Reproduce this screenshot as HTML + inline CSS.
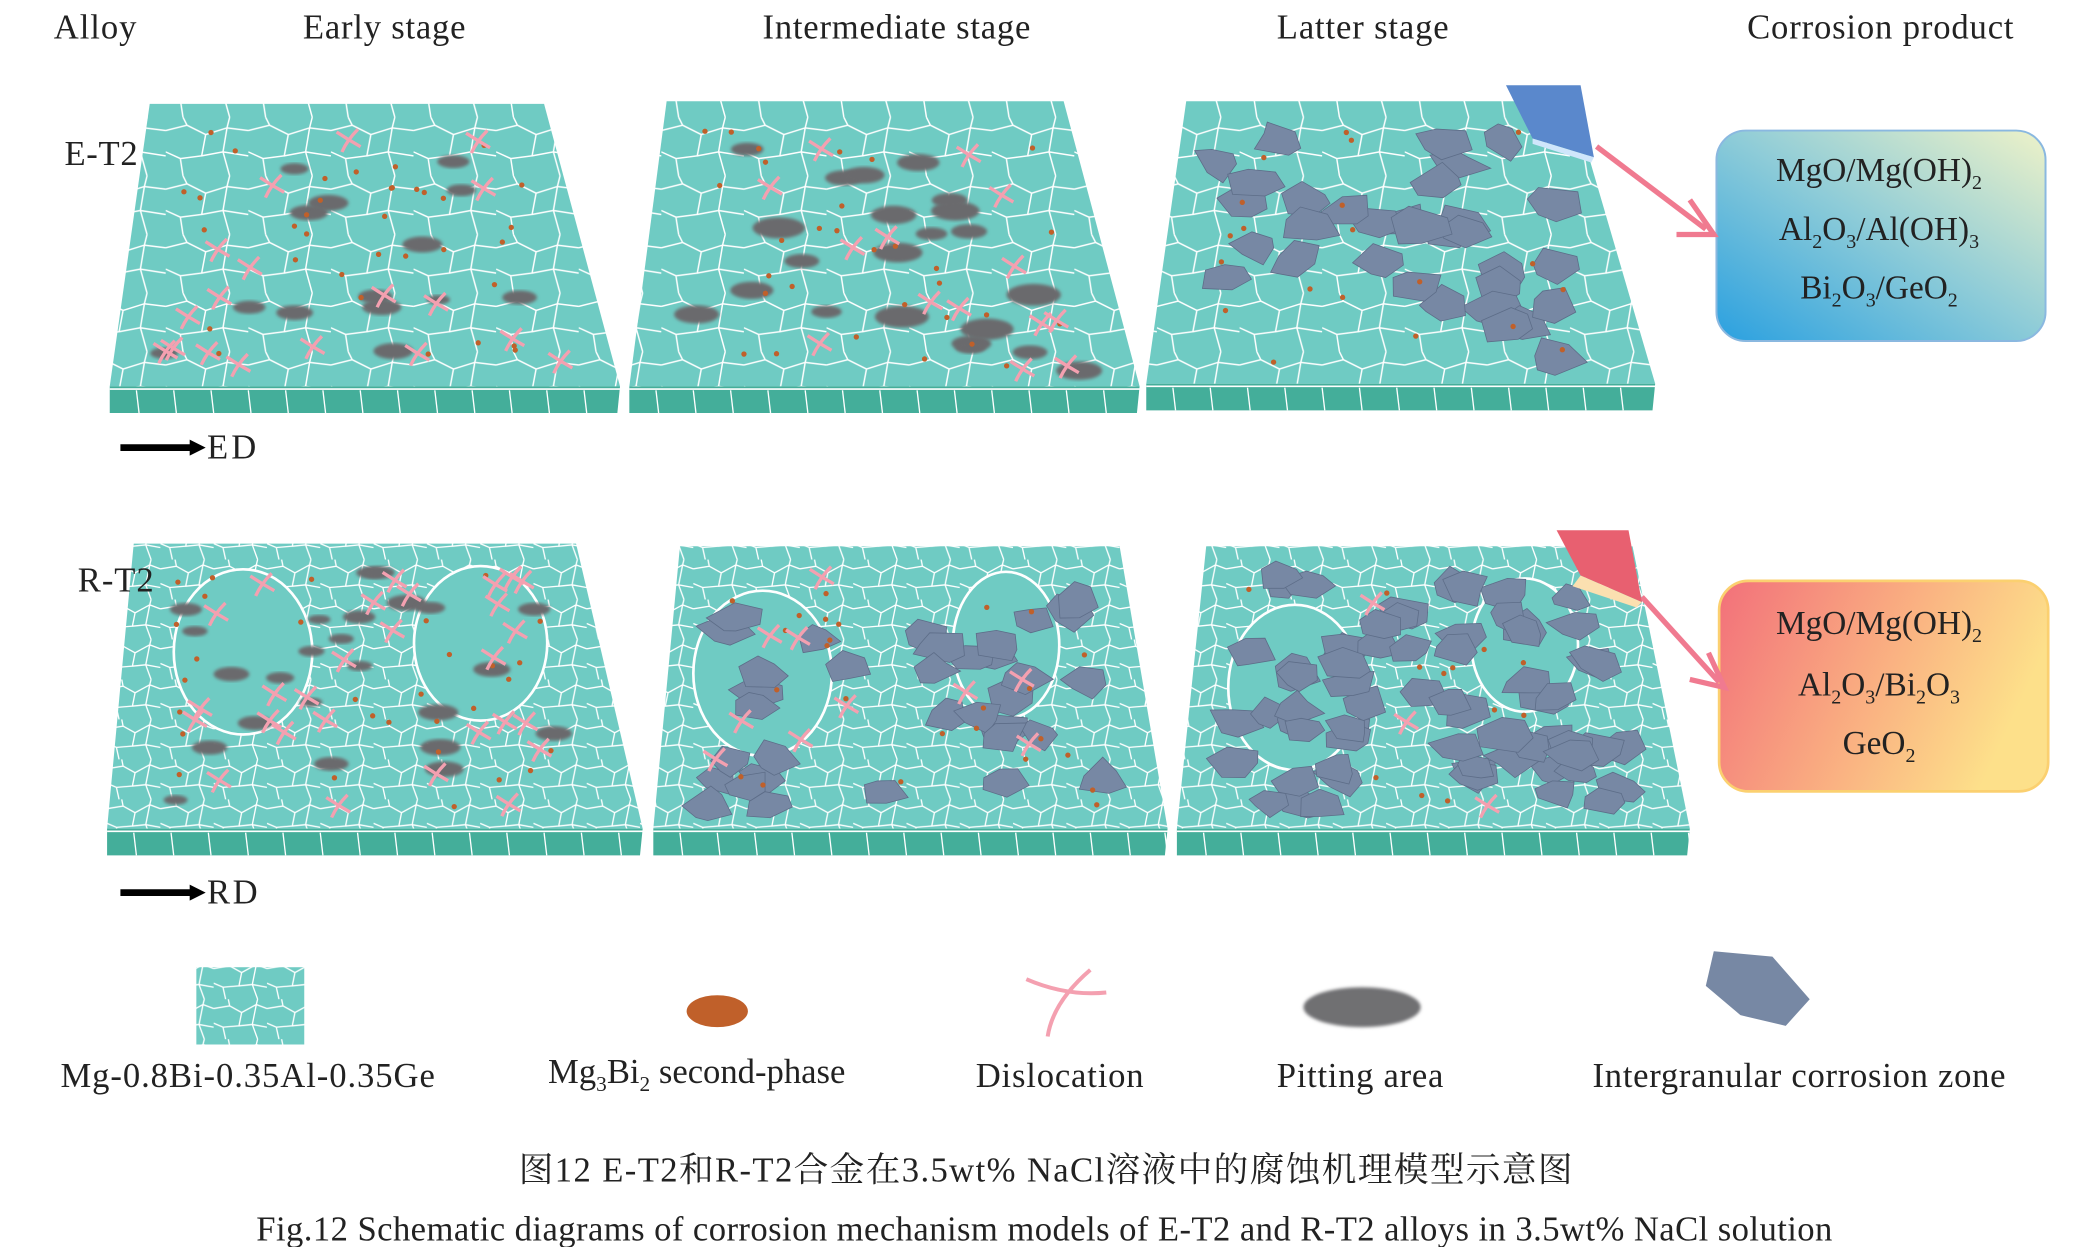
<!DOCTYPE html>
<html><head><meta charset="utf-8"><style>
html,body{margin:0;padding:0;background:#fff;}
svg{display:block}
text{font-family:"Liberation Serif","Noto Serif CJK SC",serif;fill:#222}
</style></head><body>
<svg id="s" width="2090" height="1247" viewBox="0 0 1568 936" xmlns="http://www.w3.org/2000/svg">
<defs>
<pattern id="g" width="62" height="44" patternUnits="userSpaceOnUse">
<rect width="62" height="44" fill="#6fcbc3"/>
<path d="M0 10 L16 6 L30 13 L46 8 L62 10 M16 6 L13 0 M46 8 L48 0 M30 13 L27 29 L11 31 L0 26 M27 29 L43 26 L46 8 M43 26 L62 29 M11 31 L13 44 M43 26 L48 44" stroke="#fff" stroke-width="1.1" fill="none"/>
</pattern>
<pattern id="g2" width="40" height="30" patternUnits="userSpaceOnUse">
<rect width="40" height="30" fill="#6fcbc3"/>
<path d="M0 7 L12 5 L21 10 L32 4 L40 7 M12 5 L11 0 M32 4 L33 0 M21 10 L19 20 L7 21 L0 18 M19 20 L29 19 L32 4 M29 19 L40 21 M7 21 L9 30 M29 19 L33 30" stroke="#fff" stroke-width="1" fill="none"/>
</pattern>
<linearGradient id="b1" x1="1" y1="0" x2="0" y2="1"><stop offset="0" stop-color="#eef2c8"/><stop offset="0.5" stop-color="#8ccbd8"/><stop offset="1" stop-color="#2aa0e0"/></linearGradient>
<linearGradient id="b2" x1="0" y1="0" x2="1" y2="0.3"><stop offset="0" stop-color="#f2707a"/><stop offset="0.5" stop-color="#f9a880"/><stop offset="1" stop-color="#fde08a"/></linearGradient>
<filter id="bl"><feGaussianBlur stdDeviation="1.2"/></filter>
</defs>
<g id="root"></g>
<g font-size="26" lengthAdjust="spacingAndGlyphs">
<text x="40" y="29" textLength="62">Alloy</text>
<text x="227" y="29" textLength="122">Early stage</text>
<text x="572" y="29" textLength="201">Intermediate stage</text>
<text x="958" y="29" textLength="129">Latter stage</text>
<text x="1311" y="29" textLength="200">Corrosion product</text>
<text x="48" y="124" textLength="55">E-T2</text>
<text x="58" y="444" textLength="57">R-T2</text>
<text x="155" y="344" textLength="37">ED</text>
<text x="155" y="678" textLength="38">RD</text>
</g>
<line x1="90" y1="336" x2="146" y2="336" stroke="#000" stroke-width="5"/><path d="M142 330 L154 336 L142 342Z"/>
<line x1="90" y1="670" x2="146" y2="670" stroke="#000" stroke-width="5"/><path d="M142 664 L154 670 L142 676Z"/>
<rect x="1288" y="98" width="247" height="158" rx="22" fill="url(#b1)" stroke="#8ab8e0" stroke-width="1.5"/>
<rect x="1290" y="436" width="247" height="158" rx="22" fill="url(#b2)" stroke="#fbd070" stroke-width="2"/>
<g font-size="25" text-anchor="middle">
<text x="1410" y="136">MgO/Mg(OH)<tspan font-size="15" dy="6">2</tspan></text>
<text x="1410" y="180">Al<tspan font-size="15" dy="6">2</tspan><tspan dy="-6">O</tspan><tspan font-size="15" dy="6">3</tspan><tspan dy="-6">/Al(OH)</tspan><tspan font-size="15" dy="6">3</tspan></text>
<text x="1410" y="224">Bi<tspan font-size="15" dy="6">2</tspan><tspan dy="-6">O</tspan><tspan font-size="15" dy="6">3</tspan><tspan dy="-6">/GeO</tspan><tspan font-size="15" dy="6">2</tspan></text>
<text x="1410" y="476">MgO/Mg(OH)<tspan font-size="15" dy="6">2</tspan></text>
<text x="1410" y="522">Al<tspan font-size="15" dy="6">2</tspan><tspan dy="-6">O</tspan><tspan font-size="15" dy="6">3</tspan><tspan dy="-6">/Bi</tspan><tspan font-size="15" dy="6">2</tspan><tspan dy="-6">O</tspan><tspan font-size="15" dy="6">3</tspan></text>
<text x="1410" y="566">GeO<tspan font-size="15" dy="6">2</tspan></text>
</g>
<path d="M1198 110 L1280 172" stroke="#f07a90" stroke-width="4" fill="none"/><path d="M1268 150 L1286 176 L1258 176" stroke="#f07a90" stroke-width="4" fill="none"/>
<path d="M1232 448 L1290 512" stroke="#f07a90" stroke-width="4" fill="none"/><path d="M1282 490 L1294 516 L1268 510" stroke="#f07a90" stroke-width="4" fill="none"/>
<path d="M1130 64 L1186 64 L1196 118 L1150 104Z" fill="#5a88cc"/><path d="M1150 104 L1196 118 L1194 122 L1150 108Z" fill="#cfe6fb"/>
<path d="M1168 398 L1222 398 L1232 452 L1186 432Z" fill="#e86070"/><path d="M1186 432 L1232 452 L1228 456 L1180 440Z" fill="#fbe0b0"/>
<rect x="147" y="726" width="81" height="58" fill="url(#g2)"/>
<ellipse cx="538" cy="759" rx="23" ry="12" fill="#c0602a"/>
<path d="M770 735 Q800 748 830 745 M818 728 Q790 752 786 778" stroke="#f4a0b0" stroke-width="3" fill="none"/>
<ellipse cx="1022" cy="756" rx="44" ry="15" fill="#707072" filter="url(#bl)"/>
<path d="M1286 714 L1330 718 L1358 750 L1340 770 L1306 762 L1280 740Z" fill="#7788a4"/>
<g font-size="26" lengthAdjust="spacingAndGlyphs">
<text x="45" y="816" textLength="281">Mg-0.8Bi-0.35Al-0.35Ge</text>
<text x="411" y="813">Mg<tspan font-size="16" dy="6">3</tspan><tspan dy="-6">Bi</tspan><tspan font-size="16" dy="6">2</tspan><tspan dy="-6"> second-phase</tspan></text>
<text x="732" y="816" textLength="126">Dislocation</text>
<text x="958" y="816" textLength="125">Pitting area</text>
<text x="1195" y="816" textLength="310">Intergranular corrosion zone</text>
<text x="389" y="887" textLength="791">图12  E-T2和R-T2合金在3.5wt% NaCl溶液中的腐蚀机理模型示意图</text>
<text x="192" y="931" textLength="1183">Fig.12  Schematic diagrams of corrosion mechanism models of E-T2 and R-T2 alloys in 3.5wt% NaCl solution</text>
</g>
</svg>
<script>
var NS="http://www.w3.org/2000/svg",root=document.getElementById("root");
var seed=7;function r(){seed=(seed*16807)%2147483647;return seed/2147483647;}
function el(t,a){var e=document.createElementNS(NS,t);for(var k in a)e.setAttribute(k,a[k]);root.appendChild(e);return e;}
function P(p,u,v){var tl=p[0],tr=p[1],br=p[2],bl=p[3];var tx=tl[0]+(tr[0]-tl[0])*u,ty=tl[1]+(tr[1]-tl[1])*u,bx=bl[0]+(br[0]-bl[0])*u,by=bl[1]+(br[1]-bl[1])*u;return[tx+(bx-tx)*v,ty+(by-ty)*v];}
function poly(c,n,rad){var s="";for(var i=0;i<n;i++){var a=i/n*6.283+r()*0.6,rr=rad*(0.6+r()*0.6);s+=(c[0]+Math.cos(a)*rr*1.2)+","+(c[1]+Math.sin(a)*rr*0.8)+" ";}return s;}
function panel(p,pat,o){
 var pts=p.map(function(q){return q.join(",")}).join(" ");
 el("polygon",{points:pts,fill:"url(#"+pat+")"});
 var bl=p[3],br=p[2];
 el("polygon",{points:bl[0]+","+bl[1]+" "+br[0]+","+br[1]+" "+(br[0]-2)+","+(br[1]+20)+" "+(bl[0])+","+(bl[1]+20),fill:"#44ae9a"});
 for(var x=bl[0]+20;x<br[0];x+=28)el("line",{x1:x,y1:bl[1]+3,x2:x+2,y2:bl[1]+20,stroke:"#fff","stroke-width":1});
 el("line",{x1:bl[0],y1:bl[1]+2,x2:br[0],y2:br[1]+2,stroke:"#fff","stroke-width":1.2});
 if(o.big){o.big.forEach(function(b){var c=P(p,b[0],b[1]);el("ellipse",{cx:c[0],cy:c[1],rx:b[2],ry:b[3],fill:"#6fcbc3",stroke:"#fff","stroke-width":2});});}
 var i,c;
 for(i=0;i<o.ig;i++){c=P(p,0.1+r()*0.8,0.1+r()*0.85);el("polygon",{points:poly(c,6,o.igr),fill:"#7788a4",stroke:"#5d6d88","stroke-width":0.6});}
 for(i=0;i<o.pit;i++){c=P(p,0.1+r()*0.8,0.1+r()*0.85);var w=o.pw*(0.7+r()*0.6);el("ellipse",{cx:c[0],cy:c[1],rx:w,ry:w*0.4,fill:"#6a6a6d",filter:"url(#bl)"});}
 for(i=0;i<o.dot;i++){c=P(p,0.1+r()*0.8,0.1+r()*0.85);el("circle",{cx:c[0],cy:c[1],r:2,fill:"#c0602a"});}
 for(i=0;i<o.dis;i++){c=P(p,0.1+r()*0.8,0.1+r()*0.85);var x=c[0],y=c[1];el("path",{d:"M"+(x-9)+" "+(y-6)+" Q"+x+" "+y+" "+(x+9)+" "+(y+5)+" M"+(x+7)+" "+(y-8)+" Q"+(x-1)+" "+(y)+" "+(x-5)+" "+(y+9),stroke:"#f4a0b0","stroke-width":2.5,fill:"none"});}
}
panel([[112,78],[408,78],[465,290],[82,290]],"g",{ig:0,pit:14,pw:12,dot:35,dis:18});
panel([[500,76],[798,76],[855,290],[472,290]],"g",{ig:0,pit:22,pw:16,dot:30,dis:14});
panel([[890,76],[1180,76],[1242,288],[860,288]],"g",{ig:32,igr:18,pit:0,dot:20,dis:0});
panel([[100,408],[432,408],[482,622],[80,622]],"g2",{big:[[0.25,0.38,52,62],[0.75,0.35,50,58]],ig:0,pit:24,pw:12,dot:30,dis:28});
panel([[510,410],[840,410],[876,622],[490,622]],"g2",{big:[[0.2,0.45,52,62],[0.72,0.35,40,55]],ig:34,igr:16,pit:0,dot:25,dis:10});
panel([[905,410],[1225,410],[1268,622],[883,622]],"g2",{big:[[0.22,0.5,50,62],[0.72,0.35,40,50]],ig:68,igr:16,pit:0,dot:12,dis:3});
</script>
</body></html>
